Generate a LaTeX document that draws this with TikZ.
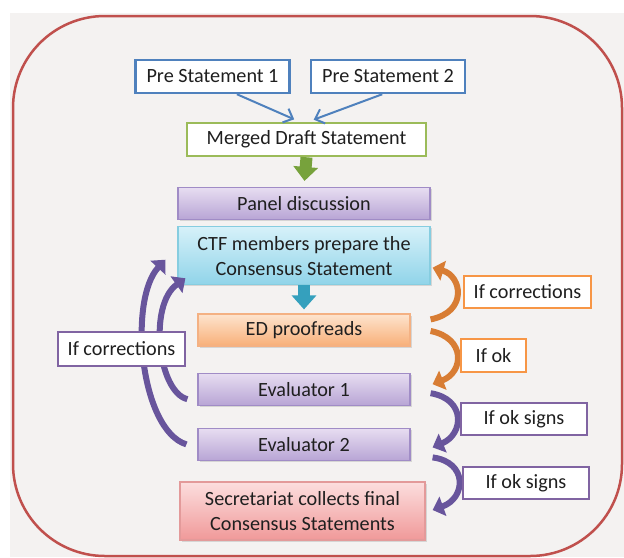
\documentclass[tikz,border=0pt]{standalone}
\usepackage{fontspec}
\setmainfont{Carlito}
\usetikzlibrary{arrows.meta}
\usetikzlibrary{positioning}
\usetikzlibrary{shadows}

\definecolor{paper}{HTML}{F4F2F1}
\definecolor{frame}{HTML}{C0504D}
\definecolor{ink}{HTML}{1F1F1F}
\definecolor{blueline}{HTML}{4F81BD}
\definecolor{greenline}{HTML}{9BBB59}
\definecolor{greenarrow}{HTML}{77A23C}
\definecolor{tealarrow}{HTML}{35A0BD}
\definecolor{lilactop}{HTML}{E7DDF1}
\definecolor{lilacbot}{HTML}{B8A5D5}
\definecolor{lilacline}{HTML}{A08CC6}
\definecolor{cyantop}{HTML}{D6F1F9}
\definecolor{cyanbot}{HTML}{90D4E9}
\definecolor{cyanline}{HTML}{86CDE0}
\definecolor{peachtop}{HTML}{FDE4CE}
\definecolor{peachbot}{HTML}{F8AF78}
\definecolor{peachline}{HTML}{F4B183}
\definecolor{rosetop}{HTML}{FCDEDE}
\definecolor{rosebot}{HTML}{F09999}
\definecolor{roseline}{HTML}{E39A9A}
\definecolor{orangeline}{HTML}{F79646}
\definecolor{orangebend}{HTML}{D87D34}
\definecolor{purpleline}{HTML}{8064A2}
\definecolor{purplebend}{HTML}{68559C}

\begin{document}
\begin{tikzpicture}[x=0.5pt,y=-0.5pt,
  every node/.style={draw,rectangle,inner sep=0pt,align=center,text=ink,
    font=\fontsize{10.1}{12.5}\selectfont},
  outlinebox/.style={fill=white,line width=1.25pt,minimum height=16.5pt},
  bluebox/.style={outlinebox,draw=blueline,minimum width=77pt},
  greenbox/.style={outlinebox,draw=greenline,minimum width=119.5pt},
  shadebox/.style={line width=0.6pt,drop shadow={shadow xshift=0.8pt,shadow yshift=-0.8pt,opacity=0.25}},
  lilacbox/.style={shadebox,draw=lilacline,top color=lilactop,bottom color=lilacbot,minimum height=16pt},
  cyanbox/.style={shadebox,draw=cyanline,top color=cyantop,bottom color=cyanbot,minimum width=126pt,minimum height=29pt},
  peachbox/.style={shadebox,draw=peachline,top color=peachtop,bottom color=peachbot,minimum width=106pt,minimum height=16pt},
  rosebox/.style={shadebox,draw=roseline,top color=rosetop,bottom color=rosebot,minimum width=122.5pt,minimum height=29pt},
  orangetag/.style={outlinebox,draw=orangeline,minimum height=16pt},
  purpletag/.style={outlinebox,draw=purpleline,minimum height=16.5pt},
  thinblue/.style={draw=blueline,line width=1pt,shorten >=3pt,-{Straight Barb[length=4pt,width=7.5pt]}},
  blockarrow/.style={line width=6pt,-{Triangle[length=7pt,width=12pt]}},
  bentarrow/.style={line width=3pt,-{Triangle[length=5.5pt,width=10pt]}}]
  \useasboundingbox (0,0) rectangle (624,557);
  \fill[paper] (10,13) rectangle (624,557);
  \draw[frame,line width=1.25pt,rounded corners=46pt] (13,16) rectangle (622,556);

  \node[bluebox] (pre1) at (212.5,76.5) {Pre Statement 1};
  \node[bluebox,right=9.5pt of pre1] (pre2) {Pre Statement 2};
  \node[greenbox] (merged) at (306.5,139.5) {Merged Draft Statement};
  \node[lilacbox,minimum width=126pt] (panel) at (304,203.5) {Panel discussion};
  \node[cyanbox,below=3pt of panel] (ctf) {CTF members prepare the\\Consensus Statement};
  \node[peachbox] (ed) at (304,330) {ED proofreads};
  \node[lilacbox,minimum width=106pt,below=13pt of ed] (ev1) {Evaluator 1};
  \node[lilacbox,minimum width=106pt,below=11pt of ev1] (ev2) {Evaluator 2};
  \node[rosebox] (sec) at (302.5,511) {Secretariat collects final\\Consensus Statements};

  \draw[thinblue] (pre1.-36) -- (merged.111);
  \draw[thinblue] (pre2.-108) -- (merged.85);
  \draw[blockarrow,greenarrow,shorten >=3pt] (merged.south) -- (panel.north);
  \draw[blockarrow,tealarrow,shorten >=2pt] (ctf.south) -- (ed.north);

  % right hand loops
  \draw[bentarrow,orangebend] ([xshift=10pt,yshift=-3pt]ed.north east) .. controls (468,312) and (462,276) .. ([xshift=1pt,yshift=-6pt]ctf.east);
  \draw[bentarrow,orangebend] ([xshift=10pt,yshift=-0.5pt]ed.east) .. controls (466,338) and (464,372) .. ([xshift=11pt,yshift=2.5pt]ev1.east);
  \draw[bentarrow,purplebend] ([xshift=10pt,yshift=-2pt]ev1.east) .. controls (466,399) and (464,434) .. ([xshift=11pt,yshift=-1.5pt]ev2.east);
  \draw[bentarrow,purplebend] ([xshift=11pt,yshift=-6.5pt]ev2.east) .. controls (468,462) and (466,498) .. ([xshift=3.5pt,yshift=0.5pt]sec.east);
  % left hand loops
  \draw[bentarrow,purplebend] ([xshift=-5.5pt]ev2.west) .. controls (140,430) and (128,300) .. ([xshift=-6pt,yshift=-2pt]ctf.west);
  \draw[bentarrow,purplebend] ([xshift=-5pt,yshift=-5pt]ev1.west) .. controls (158,392) and (148,305) .. ([xshift=4pt,yshift=3.5pt]ctf.south west);

  \node[purpletag,minimum width=63.5pt,minimum height=17pt] (fixl) at (121.5,349) {If corrections};
  \node[orangetag,minimum width=63.5pt] (fixr) at (527.5,292) {If corrections};
  \node[orangetag,minimum width=32.5pt,minimum height=16.5pt] (ok) at (493.5,355.5) {If ok};
  \node[purpletag,minimum width=63pt,minimum height=16pt] (sign1) at (524,419) {If ok signs};
  \node[purpletag,minimum width=63pt,minimum height=16pt] (sign2) at (526,483) {If ok signs};
\end{tikzpicture}
\end{document}
